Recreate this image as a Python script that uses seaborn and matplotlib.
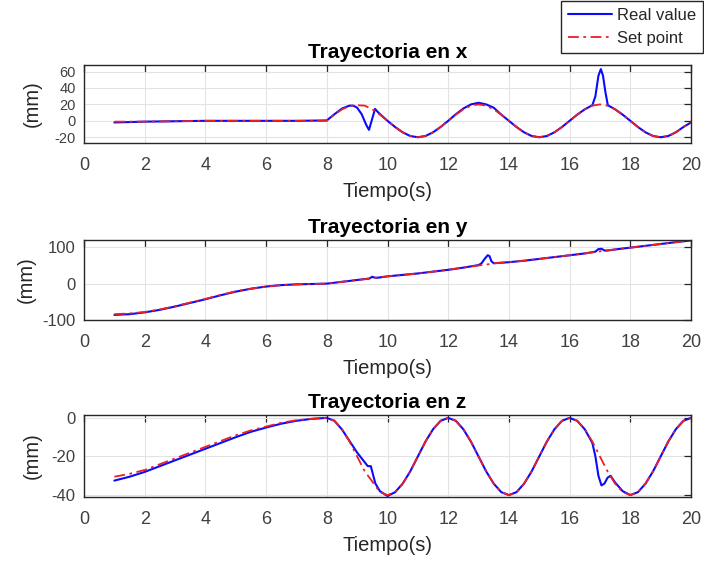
import numpy as np
import pandas as pd
import matplotlib
matplotlib.use("Agg")
import matplotlib.pyplot as plt
from matplotlib.lines import Line2D
import seaborn as sns

# ---------------- data ----------------
x_sp_t = [1, 2, 3, 4, 5, 6, 7, 8,
          8.25, 8.5, 8.75, 9, 9.25, 9.5, 9.75, 10,
          10.25, 10.5, 10.75, 11, 11.25, 11.5, 11.75, 12,
          12.25, 12.5, 12.75, 13, 13.25, 13.5, 13.75, 14,
          14.25, 14.5, 14.75, 15, 15.25, 15.5, 15.75, 16,
          16.25, 16.5, 16.75, 17, 17.25, 17.5, 17.75, 18,
          18.25, 18.5, 18.75, 19, 19.25, 19.5, 19.75, 20]
x_sp_v = [-1, -1, -0.5, 0, 0, 0, 0, 0,
          7.5, 14, 18, 19, 18.5, 14, 7.5, 0,
          -7.5, -14, -18.5, -20, -18.5, -14, -7.5, 0,
          7.5, 14, 18.5, 20, 18.5, 14, 7.5, 0,
          -7.5, -14, -18.5, -20, -18.5, -14, -7.5, 0,
          7.5, 14, 18.5, 20, 18.5, 14, 7.5, 0,
          -7.5, -14, -18.5, -20, -18.5, -14, -7.5, -2]

x_real_t = [1, 1.5, 2, 3, 4, 5, 6, 7, 8,
            8.25, 8.5, 8.75, 8.87, 9.0, 9.15, 9.3, 9.39, 9.5, 9.59, 9.7,
            10, 10.25, 10.5, 10.75, 11, 11.25, 11.5, 11.75, 12,
            12.25, 12.5, 12.75, 13, 13.25, 13.5, 13.75, 14,
            14.25, 14.5, 14.75, 15, 15.25, 15.5, 15.75, 16,
            16.25, 16.5, 16.75, 16.85, 16.95, 17.03, 17.1, 17.18, 17.26, 17.5, 17.75, 18,
            18.25, 18.5, 18.75, 19, 19.25, 19.5, 19.75, 20]
x_real_v = [-2, -1.5, -1, -0.5, 0, 0, 0, 0, 0.5,
            8, 15, 18.5, 18.5, 16, 8, -5, -11, 3, 14.5, 10,
            0, -7.5, -14, -18.5, -20, -18.5, -14, -7.5, 0,
            8, 15, 20, 22, 20, 16, 7.5, 0,
            -7.5, -14, -18.5, -20, -18.5, -14, -7.5, 0,
            7.5, 14, 19, 30, 55, 63, 55, 35, 19, 14, 7.5, 0,
            -7.5, -14, -18.5, -20, -18.5, -14, -7.5, -2]

y_sp_t = [1, 1.5, 2, 2.5, 3, 3.5, 4, 4.5, 5, 5.5, 6, 6.5, 7, 7.5, 8,
          8.5, 9, 9.5, 10, 10.5, 11, 11.5, 12, 12.5, 13,
          13.3, 13.5,
          14, 14.5, 15, 15.5, 16, 16.5, 17, 17.5, 18, 18.5, 19, 19.5, 20]
y_sp_v = [-84, -82, -78, -71, -62, -52, -42, -31, -21, -14, -8, -4, -2, -1, 0,
          5, 10, 15, 20, 24, 28, 33, 38, 44, 50,
          53, 56,
          59, 63, 68, 73, 78, 83, 89, 94, 99, 104, 109, 114, 119]

y_real_t = [1, 1.5, 2, 2.5, 3, 3.5, 4, 4.5, 5, 5.5, 6, 6.5, 7, 7.5, 8,
            8.5, 9, 9.4, 9.5, 9.55, 9.65, 10,
            10.5, 11, 11.5, 12, 12.5, 13,
            13.1, 13.2, 13.3, 13.36, 13.42, 13.5,
            14, 14.5, 15, 15.5, 16, 16.5,
            16.85, 16.95, 17.05, 17.15, 17.25, 17.5,
            18, 18.5, 19, 19.5, 20]
y_real_v = [-86, -84, -79, -72, -63, -53, -43, -32, -22, -14, -8, -4, -2, -1, 0,
            5, 10, 14, 19, 17, 16, 20,
            24, 28, 33, 38, 44, 51,
            56, 68, 78, 76, 62, 56,
            59, 63, 68, 73, 78, 83,
            88, 95, 96, 91, 91, 94,
            99, 104, 109, 114, 119]

z_sp_t = [1, 1.5, 2, 2.5, 3, 3.5, 4, 4.5, 5, 5.5, 6, 6.5, 7, 7.5, 8,
          8.25, 8.5, 8.75, 9, 9.25, 9.5, 9.75, 10,
          10.25, 10.5, 10.75, 11, 11.25, 11.5, 11.75, 12,
          12.25, 12.5, 12.75, 13, 13.25, 13.5, 13.75, 14,
          14.25, 14.5, 14.75, 15, 15.25, 15.5, 15.75, 16,
          16.25, 16.5, 16.75, 17, 17.25, 17.5, 17.75, 18,
          18.25, 18.5, 18.75, 19, 19.25, 19.5, 19.75, 20]
z_sp_v = [-30.5, -29, -27, -24, -21, -18, -15, -12, -9, -6.5, -4.5, -2.5, -1.2, -0.5, 0,
          -1.5, -5.9, -12.3, -20, -27.7, -33, -38.5, -40,
          -38.5, -34.1, -27.7, -20, -12.3, -5.9, -1.5, 0,
          -1.5, -5.9, -12.3, -20, -27.7, -34.1, -38.5, -40,
          -38.5, -34.1, -27.7, -20, -12.3, -5.9, -1.5, 0,
          -1.5, -5.9, -12.3, -20, -27.7, -34.1, -38.5, -40,
          -38.5, -34.1, -27.7, -20, -12.3, -5.9, -1.5, 0]

z_real_t = [1, 1.5, 2, 2.5, 3, 3.5, 4, 4.5, 5, 5.5, 6, 6.5, 7, 7.5, 8,
            8.25, 8.5, 8.75, 9.0, 9.2, 9.35, 9.45, 9.5, 9.6, 9.75, 10,
            10.25, 10.5, 10.75, 11, 11.25, 11.5, 11.75, 12,
            12.25, 12.5, 12.75, 13, 13.25, 13.5, 13.75, 14,
            14.25, 14.5, 14.75, 15, 15.25, 15.5, 15.75, 16,
            16.25, 16.5, 16.75, 16.85, 16.95, 17.05, 17.15, 17.25, 17.35, 17.5, 17.75, 18,
            18.25, 18.5, 18.75, 19, 19.25, 19.5, 19.75, 20]
z_real_v = [-32.5, -30.5, -28, -25, -22, -19, -16, -13, -10, -7.2, -5, -3, -1.5, -0.5, 0,
            -1.5, -6, -12, -18, -22, -25, -25, -28, -34, -38, -40.5,
            -38.5, -34.1, -27.7, -20, -12.3, -5.9, -1.5, 0,
            -1.5, -5.9, -12.3, -20, -27.7, -34.1, -38.5, -40,
            -38.5, -34.1, -27.7, -20, -12.3, -5.9, -1.5, 0,
            -1.5, -5.9, -13, -20, -30, -35, -34, -31, -30, -33.5, -38, -40,
            -38.5, -34.1, -27.7, -20, -12.3, -5.9, -1.5, 0]

titles = ["Trayectoria en x", "Trayectoria en y", "Trayectoria en z"]
ylims = [(-27, 68), (-100, 120), (-41, 1.5)]
yticks = [[-20, 0, 20, 40, 60], [-100, 0, 100], [-40, -20, 0]]
xticks = [0, 2, 4, 6, 8, 10, 12, 14, 16, 18, 20]
legend_labels = ["Real value", "Set point"]

# ---------------- style ----------------
sns.set_theme(style="whitegrid")
plt.rcParams["font.family"] = ["Liberation Sans", "DejaVu Sans"]
plt.rcParams["axes.unicode_minus"] = False
plt.rcParams["axes.edgecolor"] = "#262626"
plt.rcParams["axes.linewidth"] = 1.0
plt.rcParams["grid.color"] = "#e3e3e3"
plt.rcParams["grid.linewidth"] = 0.8

BLUE = "#0a0aff"
RED = "#e8202a"
DASHDOT = (0, (6, 2.5, 1.5, 2.5))

fig = plt.figure(figsize=(7.04, 5.62), dpi=100)
fig.patch.set_facecolor("white")

W = 704.0
H = 562.0
left_px, right_px = 84, 691
boxes = [(65, 143), (240, 320), (415, 497)]
ytick_sizes = [10.5, 12, 12]
ylabel_x = [-0.07, -0.08, -0.07]

series = [
    (x_real_t, x_real_v, x_sp_t, x_sp_v),
    (y_real_t, y_real_v, y_sp_t, y_sp_v),
    (z_real_t, z_real_v, z_sp_t, z_sp_v),
]

for i, (top_px, bot_px) in enumerate(boxes):
    ax = fig.add_axes([left_px / W, 1 - bot_px / H,
                       (right_px - left_px) / W, (bot_px - top_px) / H])
    ax.set_facecolor("white")
    rt, rv, st, sv = series[i]
    df_r = pd.DataFrame({"t": rt, "v": rv})
    df_s = pd.DataFrame({"t": st, "v": sv})
    sns.lineplot(data=df_r, x="t", y="v", ax=ax, color=BLUE, linewidth=1.5,
                 estimator=None, sort=False)
    sns.lineplot(data=df_s, x="t", y="v", ax=ax, color=RED, linewidth=1.3,
                 linestyle=DASHDOT, estimator=None, sort=False)
    ax.set_xlim(0, 20)
    ax.set_ylim(*ylims[i])
    ax.set_xticks(xticks)
    ax.set_yticks(yticks[i])
    ax.grid(True, color="#e3e3e3", linewidth=0.8)
    ax.tick_params(axis="both", direction="in", top=True, right=True,
                   length=5, width=0.9, color="#262626", labelcolor="#404040")
    ax.tick_params(axis="x", labelsize=13, pad=10)
    ax.tick_params(axis="y", labelsize=ytick_sizes[i], pad=6)
    for s in ax.spines.values():
        s.set_visible(True)
        s.set_color("#262626")
        s.set_linewidth(1.0)
    ax.set_title(titles[i], fontsize=15, fontweight="bold", color="black", pad=5)
    ax.set_xlabel("Tiempo(s)", fontsize=14.5, color="#262626", labelpad=6)
    ax.set_ylabel("(mm)", fontsize=14.5, color="#262626")
    ax.yaxis.set_label_coords(ylabel_x[i], 0.5)

handles = [Line2D([0], [0], color=BLUE, linewidth=1.5),
           Line2D([0], [0], color=RED, linewidth=1.3, linestyle=DASHDOT)]
leg = fig.legend(handles, legend_labels, loc="upper right",
                 bbox_to_anchor=(0.999, 0.999), fontsize=12, frameon=True,
                 fancybox=False, edgecolor="#262626", framealpha=1,
                 handlelength=2.6, handletextpad=0.3, borderpad=0.45,
                 labelspacing=0.45, borderaxespad=0.0)
leg.get_frame().set_linewidth(1.0)
for txt in leg.get_texts():
    txt.set_color("#262626")

fig.savefig("out.png", dpi=100, facecolor="white")
